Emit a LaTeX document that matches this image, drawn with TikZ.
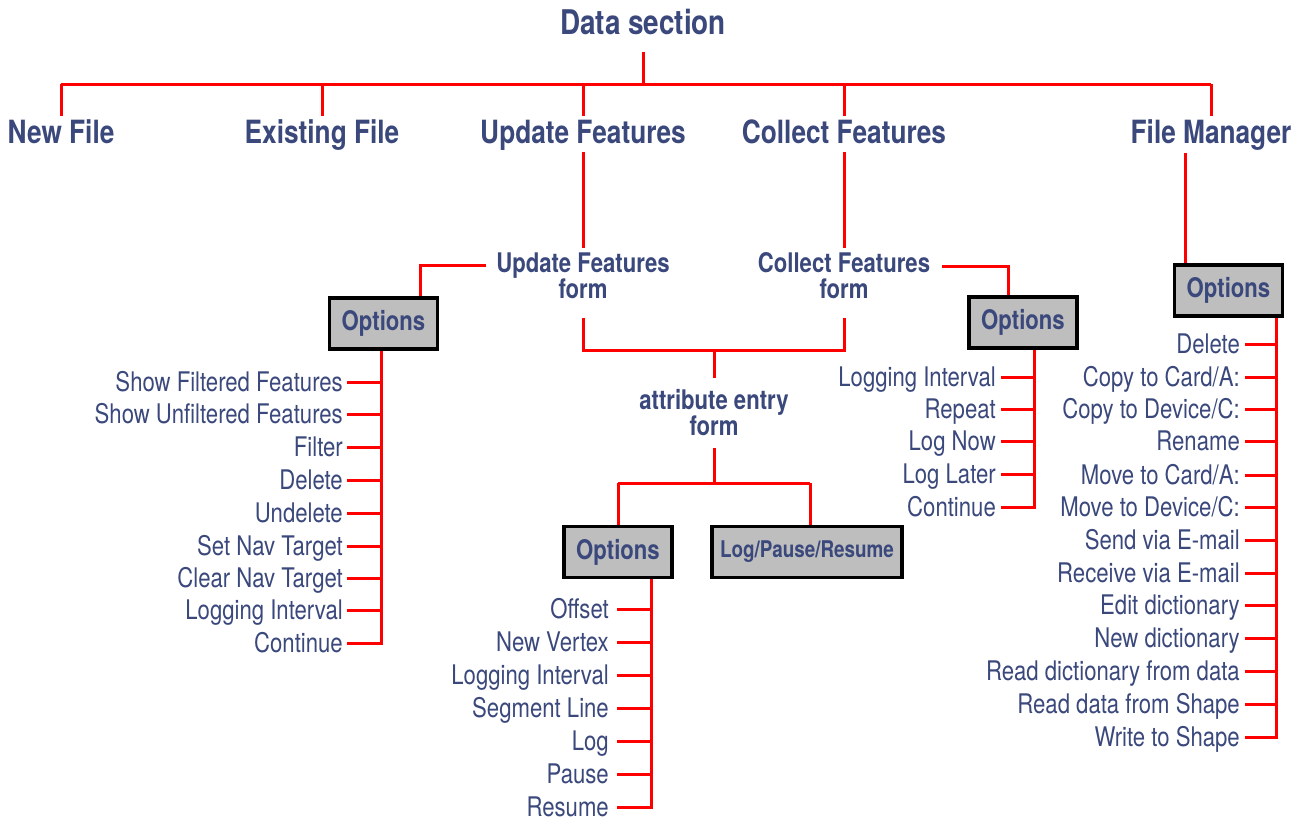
\documentclass[tikz,border=0pt]{standalone}
\usepackage{fontspec}
\setmainfont{TeX Gyre Heros}[FakeStretch=0.82]
\definecolor{txt}{RGB}{58,72,124}
\definecolor{lnk}{RGB}{255,0,0}
\definecolor{boxfill}{RGB}{190,190,190}
\tikzset{
  link/.style={draw=lnk, line width=3pt},
  ttl/.style={inner sep=0pt, text=txt, font=\fontsize{34}{40}\selectfont\bfseries, text height=24.5pt, text depth=0pt},
  top/.style={inner sep=0pt, text=txt, font=\fontsize{32}{38}\selectfont\bfseries, text height=23pt, text depth=0pt},
  mid/.style={inner sep=0pt, text=txt, font=\fontsize{27}{32}\selectfont\bfseries, text height=19.5pt, text depth=0pt},
  itm/.style={inner sep=0pt, anchor=east, text=txt, font=\fontsize{27}{32}\selectfont, text height=19.5pt, text depth=0pt},
  obox/.style={draw=black, line width=3.5pt, fill=boxfill, minimum width=108pt, minimum height=51pt, inner sep=0pt, text=txt, font=\fontsize{27}{32}\selectfont\bfseries}
}
\begin{document}
\begin{tikzpicture}[x=1pt,y=-1pt]
\useasboundingbox[fill=white] (0,0) rectangle (1309,820);
% top
\node[ttl] (ds) at (643,22) {Data section};
\node[top] (nf) at (61,132) {New File};
\node[top] (ef) at (322,132) {Existing File};
\node[top] (uf) at (583,132) {Update Features};
\node[top] (cf) at (844,132) {Collect Features};
\node[top] (fm) at (1211,132) {File Manager};
\coordinate (j0) at (643,84);
\draw[link] ([yshift=-17.5pt]ds.south) -- (j0);
\draw[link] (nf.north |- j0) -- (fm.north |- j0);
\foreach \n in {nf,ef,uf,cf,fm} \draw[link] (\n.north |- j0) -- ([yshift=4pt]\n.north);
% forms
\node[mid] (ufa) at (583,263) {Update Features};
\node[mid] (ufb) at (583,289) {form};
\node[mid] (cfa) at (844,263) {Collect Features};
\node[mid] (cfb) at (844,289) {form};
\draw[link] ([yshift=-8.5pt]uf.south) -- ([yshift=5.5pt]ufa.north);
\draw[link] ([yshift=-8.5pt]cf.south) -- ([yshift=5.5pt]cfa.north);
% option boxes
\node[obox] (o1) at (383.5,323.5) {Options};
\node[obox] (o2) at (1023,322.5) {Options};
\node[obox] (o4) at (1228.5,290.5) {Options};
\node[obox] (o3) at (618,552) {Options};
\node[obox, minimum width=190pt, font=\fontsize{23}{28}\selectfont\bfseries] (lpr) at (807,552) {Log/Pause/Resume};
\draw[link] ([xshift=-10pt,yshift=-2pt]ufa.west) -| ([xshift=37pt]o1.north);
\draw[link] ([xshift=12pt,yshift=-3pt]cfa.east) -| ([xshift=-15pt]o2.north);
\coordinate (f4) at ([xshift=-43.5pt]o4.north);
\draw[link] ([yshift=-9pt]f4 |- fm.south) -- (f4);
% attribute entry form
\node[mid] (aea) at (714,400) {attribute entry};
\node[mid] (aeb) at (714,426) {form};
\coordinate (j1) at (714,350);
\draw[link] ([yshift=-19pt]ufb.south) |- (cfb.south |- j1) -- ([yshift=-19pt]cfb.south);
\draw[link] (j1) -- ([yshift=12pt]aea.north);
\coordinate (j2) at (714,483);
\draw[link] ([yshift=-12pt]aeb.south) -- (j2);
\draw[link] (o3.north |- j2) -- (o3.north);
\draw[link] ([xshift=3pt]lpr.north |- j2) -- ([xshift=3pt]lpr.north);
\draw[link] (o3.north |- j2) -- ([xshift=3pt]lpr.north |- j2);
% list 1
\coordinate (b1) at ([xshift=-2.5pt]o1.south);
\node[itm] (a1) at (343,382) {Show Filtered Features};
\node[itm] (a2) at (343,414) {Show Unfiltered Features};
\node[itm] (a3) at (343,447) {Filter};
\node[itm] (a4) at (343,480) {Delete};
\node[itm] (a5) at (343,513) {Undelete};
\node[itm] (a6) at (343,546) {Set Nav Target};
\node[itm] (a7) at (343,578) {Clear Nav Target};
\node[itm] (a8) at (343,610) {Logging Interval};
\node[itm] (a9) at (343,643) {Continue};
\draw[link] (b1) |- ([xshift=4pt]a9.east);
\foreach \n in {a1,a2,a3,a4,a5,a6,a7,a8} \draw[link] ([xshift=4pt]\n.east) -- (\n.east -| b1);
% list 2
\coordinate (b2) at ([xshift=11pt]o2.south);
\node[itm] (c1) at (996,377) {Logging Interval};
\node[itm] (c2) at (996,409) {Repeat};
\node[itm] (c3) at (996,441) {Log Now};
\node[itm] (c4) at (996,474) {Log Later};
\node[itm] (c5) at (996,507) {Continue};
\draw[link] (b2) |- ([xshift=5pt]c5.east);
\foreach \n in {c1,c2,c3,c4} \draw[link] ([xshift=5pt]\n.east) -- (\n.east -| b2);
% list 3
\coordinate (b3) at ([xshift=33pt]o3.south);
\node[itm] (d1) at (609,609) {Offset};
\node[itm] (d2) at (609,642) {New Vertex};
\node[itm] (d3) at (609,675) {Logging Interval};
\node[itm] (d4) at (609,708) {Segment Line};
\node[itm] (d5) at (609,741) {Log};
\node[itm] (d6) at (609,774) {Pause};
\node[itm] (d7) at (609,807) {Resume};
\draw[link] (b3) |- ([xshift=8pt]d7.east);
\foreach \n in {d1,d2,d3,d4,d5,d6} \draw[link] ([xshift=8pt]\n.east) -- (\n.east -| b3);
% list 4
\coordinate (b4) at ([xshift=47.5pt]o4.south);
\node[itm] (e1) at (1240,344) {Delete};
\node[itm] (e2) at (1240,377) {Copy to Card/A:};
\node[itm] (e3) at (1240,409) {Copy to Device/C:};
\node[itm] (e4) at (1240,441) {Rename};
\node[itm] (e5) at (1240,475) {Move to Card/A:};
\node[itm] (e6) at (1240,507) {Move to Device/C:};
\node[itm] (e7) at (1240,540) {Send via E-mail};
\node[itm] (e8) at (1240,573) {Receive via E-mail};
\node[itm] (e9) at (1240,605) {Edit dictionary};
\node[itm] (e10) at (1240,638) {New dictionary};
\node[itm] (e11) at (1240,671) {Read dictionary from data};
\node[itm] (e12) at (1240,704) {Read data from Shape};
\node[itm] (e13) at (1240,737) {Write to Shape};
\draw[link] (b4) |- ([xshift=5pt]e13.east);
\foreach \n in {e1,e2,e3,e4,e5,e6,e7,e8,e9,e10,e11,e12} \draw[link] ([xshift=5pt]\n.east) -- (\n.east -| b4);
\end{tikzpicture}
\end{document}
